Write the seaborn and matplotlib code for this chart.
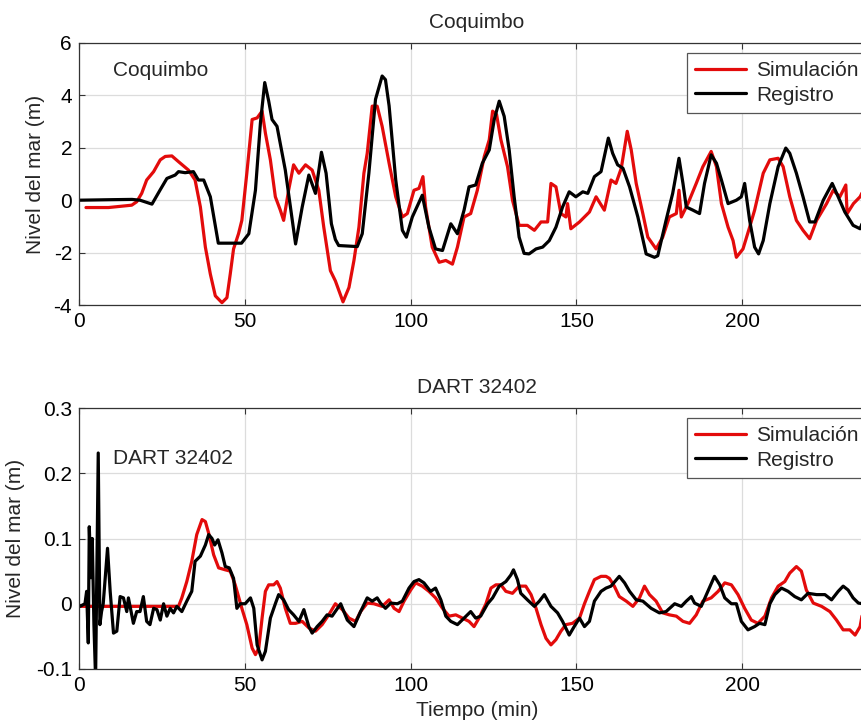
import numpy as np
import pandas as pd
import matplotlib
matplotlib.use("Agg")
import matplotlib.pyplot as plt
import seaborn as sns

# ---------------- data ----------------
# Coquimbo (top panel)
coq_sim_t = [2.1, 8.9, 15.9, 17.4, 18.9, 20.4, 22.5, 24.5, 26.0, 28.0, 30.0, 33.0, 35.0, 36.6, 38.1,
             39.6, 41.1, 43.1, 44.6, 45.6, 46.6, 48.1, 49.1, 50.6, 52.2, 53.7, 55.2, 56.2, 57.7,
             59.2, 60.7, 61.7, 63.2, 64.7, 66.3, 68.3, 70.3, 72.3, 73.8, 75.8, 77.3, 79.6, 81.4,
             82.9, 84.4, 85.9, 86.9, 88.4, 89.9, 91.4, 93.5, 95.5, 97.5, 99.0, 101.0, 102.5, 103.7,
             104.5, 106.5, 108.6, 110.6, 112.6, 114.1, 116.1, 118.1, 120.1, 122.2, 123.7, 124.7,
             125.9, 127.2, 129.2, 130.7, 132.7, 135.2, 137.3, 139.3, 141.3, 142.3, 143.8, 145.3,
             146.8, 147.3, 148.3, 150.9, 153.9, 155.9, 158.4, 160.4, 161.9, 163.5, 165.3, 166.5,
             168.0, 170.0, 171.5, 174.0, 176.0, 178.0, 180.1, 180.9, 181.6, 183.6, 186.1, 188.1,
             190.6, 192.2, 193.7, 195.7, 197.2, 198.2, 200.2, 202.2, 203.7, 206.3, 208.3, 210.8,
             212.3, 214.3, 216.3, 218.3, 220.3, 222.4, 225.4, 227.4, 229.4, 231.2, 231.6, 233.5,
             235.5, 236.5, 238.5, 240.0]
coq_sim_v = [-0.28, -0.28, -0.19, -0.06, 0.26, 0.77, 1.09, 1.54, 1.67, 1.69, 1.47, 1.15, 0.77, -0.26,
             -1.79, -2.82, -3.65, -3.91, -3.72, -2.82, -1.86, -1.28, -0.77, 1.03, 3.08, 3.14, 3.40,
             2.56, 1.54, 0.13, -0.38, -0.77, 0.38, 1.35, 1.03, 1.35, 1.15, 0.38, -1.03, -2.69, -3.08,
             -3.88, -3.33, -2.30, -1.03, 1.03, 1.79, 3.59, 3.59, 2.82, 1.41, 0.13, -0.64, -0.51, 0.38,
             0.45, 0.90, -0.26, -1.79, -2.37, -2.30, -2.44, -1.79, -0.64, -0.51, 0.38, 1.67, 2.31,
             3.40, 3.27, 2.31, 1.28, 0.00, -0.96, -0.96, -1.15, -0.83, -0.83, 0.64, 0.51, -0.51,
             -0.64, -0.13, -1.09, -0.83, -0.45, 0.13, -0.38, 0.77, 0.64, 1.22, 2.63, 1.92, 0.64,
             -0.51, -1.41, -1.86, -1.41, -0.64, -0.51, 0.38, -0.64, -0.13, 0.64, 1.28, 1.86, 1.28,
             -0.13, -1.03, -1.54, -2.18, -1.86, -1.03, -0.38, 1.03, 1.54, 1.60, 1.28, 0.13, -0.77,
             -1.15, -1.47, -0.77, -0.13, 0.38, 0.13, 0.58, -0.51, -0.13, 0.13, 0.38, 0.60, 0.70]

coq_reg_t = [0.0, 10.0, 16.0, 18.4, 22.0, 24.5, 26.5, 29.0, 30.0, 32.0, 34.5, 36.0, 37.6, 39.6, 42.0,
             49.0, 51.2, 53.2, 54.7, 56.0, 57.2, 58.2, 59.7, 62.2, 65.3, 67.3, 69.3, 71.3, 73.1,
             74.5, 76.1, 77.3, 78.3, 83.9, 85.4, 87.4, 89.4, 91.4, 92.4, 93.5, 95.5, 97.5, 98.7,
             100.5, 103.5, 105.5, 107.5, 109.6, 112.1, 114.1, 116.1, 117.6, 119.6, 121.6, 123.7,
             125.2, 126.7, 128.2, 129.7, 131.2, 132.7, 134.2, 135.7, 137.8, 139.8, 141.8, 143.8,
             145.8, 147.8, 149.8, 151.9, 153.4, 155.4, 157.4, 159.6, 160.9, 162.4, 164.0, 166.0,
             168.5, 171.0, 173.5, 174.5, 177.0, 179.0, 180.9, 182.1, 183.1, 185.1, 187.1, 188.6,
             190.6, 192.2, 193.7, 195.7, 198.2, 199.7, 200.7, 202.2, 203.7, 204.9, 206.3, 208.3,
             210.8, 213.1, 214.3, 216.3, 218.3, 220.3, 221.9, 224.4, 227.1, 228.9, 230.9, 233.4,
             235.5, 236.5, 238.5, 240.0]
coq_reg_v = [0.0, 0.02, 0.03, 0.0, -0.15, 0.40, 0.83, 0.96, 1.09, 1.05, 1.09, 0.77, 0.77, 0.13, -1.64,
             -1.64, -1.28, 0.38, 2.95, 4.49, 3.78, 3.08, 2.82, 1.15, -1.67, -0.26, 0.96, 0.26, 1.83,
             1.03, -0.90, -1.50, -1.73, -1.77, -1.28, 1.03, 3.85, 4.74, 4.60, 3.60, 0.77, -1.15,
             -1.41, -0.64, 0.19, -1.03, -1.86, -1.92, -0.90, -1.28, -0.38, 0.51, 0.58, 1.41, 1.92,
             3.08, 3.78, 3.20, 1.92, 0.13, -1.41, -2.03, -2.05, -1.86, -1.79, -1.54, -1.03, -0.26,
             0.32, 0.13, 0.32, 0.26, 0.90, 1.09, 2.37, 1.79, 1.35, 1.22, 0.51, -0.64, -2.05, -2.18,
             -2.12, -0.77, 0.26, 1.60, 0.64, -0.26, -0.38, -0.51, 0.64, 1.73, 1.41, 0.77, -0.13,
             0.00, 0.13, 0.64, -0.77, -1.79, -2.05, -1.54, -0.13, 1.28, 1.99, 1.79, 1.03, 0.13,
             -0.83, -0.83, 0.00, 0.64, 0.13, -0.45, -0.96, -1.09, -0.77, -0.20, 0.20]

# DART 32402 (bottom panel)
dart_sim_t = [0.0, 10.0, 20.0, 30.0, 31.0, 32.5, 34.0, 35.5, 37.1, 38.1, 39.1, 40.6, 42.1, 44.1, 45.6,
              47.1, 48.1, 49.1, 50.6, 52.2, 53.2, 54.2, 55.2, 56.2, 57.2, 58.7, 59.7, 60.7, 62.2,
              63.7, 65.3, 67.3, 69.3, 71.3, 73.3, 75.3, 77.3, 79.4, 81.4, 83.4, 84.9, 86.9, 88.9,
              91.4, 93.5, 95.0, 96.5, 98.0, 100.0, 101.5, 103.5, 105.5, 107.5, 109.6, 111.6, 113.6,
              115.6, 117.6, 119.1, 120.6, 122.7, 124.2, 125.7, 127.2, 128.7, 130.7, 132.7, 134.7,
              136.3, 137.8, 139.3, 140.8, 142.3, 143.8, 145.3, 146.8, 148.8, 150.9, 152.4, 153.9,
              155.4, 157.4, 158.9, 159.9, 161.4, 162.9, 165.0, 167.0, 169.0, 170.5, 172.0, 174.0,
              176.0, 178.0, 180.1, 182.1, 184.1, 186.1, 188.1, 190.6, 192.7, 194.7, 196.7, 198.7,
              200.7, 202.7, 204.7, 206.8, 208.8, 210.8, 212.8, 214.3, 216.3, 217.8, 219.3, 221.4,
              223.9, 226.4, 228.4, 230.4, 232.4, 234.0, 235.5, 236.5, 238.5, 240.0]
dart_sim_v = [-0.004, -0.004, -0.004, -0.004, 0.009, 0.034, 0.065, 0.106, 0.129, 0.126, 0.108, 0.075,
              0.055, 0.052, 0.050, 0.029, 0.011, -0.007, -0.032, -0.068, -0.078, -0.068, -0.022,
              0.019, 0.029, 0.029, 0.034, 0.024, -0.007, -0.030, -0.030, -0.027, -0.037, -0.042,
              -0.032, -0.017, 0.000, -0.009, -0.022, -0.027, -0.012, 0.001, 0.000, -0.004, 0.006,
              -0.007, -0.012, 0.004, 0.021, 0.032, 0.027, 0.019, 0.009, -0.007, -0.019, -0.017,
              -0.022, -0.027, -0.035, -0.022, 0.000, 0.024, 0.029, 0.029, 0.019, 0.016, 0.027, 0.027,
              0.014, -0.007, -0.032, -0.053, -0.063, -0.055, -0.042, -0.032, -0.030, -0.022, 0.000,
              0.019, 0.037, 0.042, 0.042, 0.039, 0.027, 0.011, 0.004, -0.004, 0.009, 0.027, 0.014,
              0.004, -0.014, -0.017, -0.019, -0.027, -0.030, -0.017, 0.004, 0.009, 0.019, 0.032,
              0.029, 0.014, -0.007, -0.025, -0.030, -0.019, 0.009, 0.027, 0.034, 0.047, 0.057, 0.050,
              0.021, 0.001, -0.004, -0.012, -0.025, -0.040, -0.040, -0.048, -0.035, -0.007, 0.015,
              0.025]

dart_reg_t = [0.0, 0.3, 1.8, 2.3, 2.8, 3.1, 3.6, 4.0, 4.5, 5.0, 5.8, 6.3, 6.8, 7.3, 8.6, 9.4, 10.4,
              11.4, 12.4, 13.4, 14.4, 14.9, 16.4, 17.4, 18.4, 19.4, 20.4, 21.4, 22.5, 23.5, 24.5,
              25.5, 26.5, 27.5, 28.5, 29.5, 31.0, 32.5, 34.0, 35.0, 36.6, 38.1, 39.1, 40.1, 40.9,
              41.9, 43.1, 44.1, 45.3, 46.6, 47.6, 48.6, 50.1, 51.7, 52.7, 53.7, 55.2, 56.2, 57.7,
              59.2, 60.2, 61.7, 63.2, 64.7, 66.3, 67.8, 69.3, 70.3, 71.8, 73.3, 74.8, 76.3, 78.9,
              80.9, 82.9, 84.9, 86.9, 88.4, 89.9, 90.9, 92.4, 94.0, 96.0, 97.5, 99.5, 101.0, 102.5,
              104.0, 106.0, 107.5, 109.1, 110.6, 112.1, 114.1, 116.1, 118.1, 119.6, 121.1, 123.2,
              124.7, 126.7, 128.7, 130.2, 131.0, 132.2, 133.2, 135.2, 137.3, 138.8, 140.3, 142.3,
              144.3, 145.8, 147.8, 149.3, 150.9, 152.4, 153.9, 155.4, 157.4, 158.9, 160.4, 162.9,
              164.5, 166.0, 168.0, 170.0, 172.5, 175.0, 177.0, 179.6, 181.6, 183.1, 184.6, 185.6,
              187.6, 189.6, 191.6, 193.2, 194.7, 196.7, 198.2, 199.7, 201.7, 203.7, 205.2, 206.8,
              208.3, 209.8, 211.8, 213.8, 215.8, 217.8, 219.8, 222.4, 224.9, 226.9, 228.9, 230.4,
              231.9, 233.4, 235.0, 236.5, 238.5, 240.0]
dart_reg_v = [-0.004, -0.004, 0.000, 0.019, -0.060, 0.118, 0.040, 0.100, -0.032, -0.115, 0.231,
              -0.032, -0.012, 0.000, 0.085, 0.019, -0.045, -0.042, 0.011, 0.009, -0.012, 0.009,
              -0.030, -0.012, -0.012, 0.011, -0.027, -0.032, -0.007, -0.009, -0.025, 0.000, -0.019,
              -0.007, -0.014, -0.004, -0.012, 0.004, 0.019, 0.065, 0.073, 0.090, 0.106, 0.100, 0.090,
              0.098, 0.078, 0.057, 0.055, 0.039, -0.007, 0.000, 0.000, 0.009, -0.007, -0.063, -0.086,
              -0.073, -0.022, 0.000, 0.014, 0.006, -0.009, -0.017, -0.027, -0.009, -0.035, -0.045,
              -0.035, -0.027, -0.017, -0.019, 0.000, -0.025, -0.035, -0.012, 0.009, 0.004, 0.009,
              0.001, -0.007, 0.001, 0.000, 0.004, 0.024, 0.034, 0.037, 0.032, 0.019, 0.024, 0.006,
              -0.019, -0.027, -0.032, -0.022, -0.012, -0.022, -0.019, 0.000, 0.009, 0.027, 0.034,
              0.044, 0.052, 0.037, 0.016, 0.006, -0.004, 0.004, 0.014, -0.004, -0.014, -0.027, -0.048,
              -0.035, -0.022, -0.035, -0.027, 0.004, 0.019, 0.024, 0.027, 0.042, 0.032, 0.019, 0.006,
              0.004, -0.007, -0.014, -0.012, 0.000, -0.004, 0.004, 0.011, 0.001, -0.004, 0.019, 0.042,
              0.029, 0.009, 0.000, 0.000, -0.027, -0.040, -0.035, -0.030, -0.032, 0.000, 0.014, 0.024,
              0.019, 0.011, 0.006, 0.016, 0.014, 0.014, 0.006, 0.019, 0.027, 0.021, 0.009, 0.001,
              0.000, -0.005, -0.008]

series_labels = ["Simulación", "Registro"]
panel_titles = ["Coquimbo", "DART 32402"]
x_ticks = [0, 50, 100, 150, 200]
coq_yticks = [-4, -2, 0, 2, 4, 6]
dart_yticks = [-0.1, 0, 0.1, 0.2, 0.3]
dart_yticklabels = ["-0.1", "0", "0.1", "0.2", "0.3"]

# ---------------- style ----------------
sns.set_theme(style="whitegrid")
plt.rcParams["font.family"] = ["Liberation Sans", "DejaVu Sans"]
FS = 15
RED = "#e30b0b"
BLACK = "#000000"

fig = plt.figure(figsize=(8.62, 7.21), dpi=100)
ax1 = fig.add_axes([79 / 862, 1 - 305 / 721, 796 / 862, 262 / 721])
ax2 = fig.add_axes([79 / 862, 1 - 669 / 721, 796 / 862, 261 / 721])


def draw(ax, st, sv, rt, rv):
    sim = pd.DataFrame({"t": st, "v": sv})
    reg = pd.DataFrame({"t": rt, "v": rv})
    sns.lineplot(data=sim, x="t", y="v", ax=ax, color=RED, lw=2.3, label=series_labels[0],
                 estimator=None, sort=False)
    sns.lineplot(data=reg, x="t", y="v", ax=ax, color=BLACK, lw=2.3, label=series_labels[1],
                 estimator=None, sort=False)


draw(ax1, coq_sim_t, coq_sim_v, coq_reg_t, coq_reg_v)
draw(ax2, dart_sim_t, dart_sim_v, dart_reg_t, dart_reg_v)

for ax, title, legy in [(ax1, panel_titles[0], (305 - 53) / 262), (ax2, panel_titles[1], (669 - 418) / 261)]:
    ax.set_xlim(0, 240)
    ax.set_xticks(x_ticks)
    ax.set_facecolor("white")
    ax.grid(True, color="#dcdcdc", lw=0.9)
    for sp in ax.spines.values():
        sp.set_color("#333333")
        sp.set_linewidth(0.9)
    ax.tick_params(direction="in", length=4, width=0.8, color="#333333", labelsize=FS,
                   top=True, right=True, bottom=True, left=True, pad=5, labelcolor="black")
    ax.set_title(title, fontsize=FS, pad=11)
    ax.set_ylabel("Nivel del mar (m)", fontsize=FS)
    ax.set_xlabel("")
    leg = ax.legend(loc="upper left", bbox_to_anchor=((685 - 79) / 794, legy), borderaxespad=0,
                    fontsize=FS, frameon=True, fancybox=False, edgecolor="#555555",
                    framealpha=1, handlelength=2.45, handletextpad=0.5, labelspacing=0.26,
                    borderpad=0.4)
    leg.get_frame().set_linewidth(0.9)

ax1.set_ylim(-4, 6)
ax1.set_yticks(coq_yticks)
ax1.set_yticklabels([str(v) for v in coq_yticks])
ax1.yaxis.set_label_coords(-0.043, 0.5)
ax1.text((113 - 79) / 794, (305 - 71) / 262, panel_titles[0], transform=ax1.transAxes,
         fontsize=FS, va="center", ha="left")

ax2.set_ylim(-0.1, 0.3)
ax2.set_yticks(dart_yticks)
ax2.set_yticklabels(dart_yticklabels)
ax2.yaxis.set_label_coords(-0.068, 0.5)
ax2.set_xlabel("Tiempo (min)", fontsize=FS, labelpad=4)
ax2.text((113 - 79) / 794, (669 - 458) / 261, panel_titles[1], transform=ax2.transAxes,
         fontsize=FS, va="center", ha="left")

fig.savefig("out.png", dpi=100, facecolor="white")
